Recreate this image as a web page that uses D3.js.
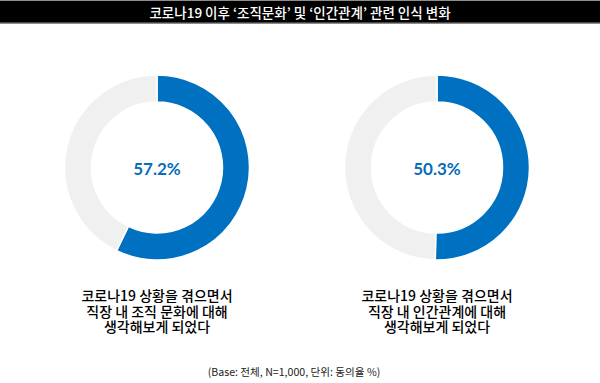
<!DOCTYPE html>
<html><head><meta charset="utf-8">
<script src="https://cdn.jsdelivr.net/npm/d3@7"></script>
<style>body{margin:0;background:#fff}svg{display:block}</style>
</head><body>
<svg id="c" width="600" height="383"></svg>
<script>
const title = "코로나19 이후 ‘조직문화’ 및 ‘인간관계’ 관련 인식 변화";
const categories = ["조직문화", "인간관계"];
const agreeValues = [57.2, 50.3];
const labelLines = [
  ["코로나19 상황을 겪으면서", "직장 내 조직 문화에 대해", "생각해보게 되었다"],
  ["코로나19 상황을 겪으면서", "직장 내 인간관계에 대해", "생각해보게 되었다"]
];
const footnote = "(Base: 전체, N=1,000, 단위: 동의율 %)";

const W = 600, H = 383;
const svg = d3.select("#c");
svg.append("rect").attr("x",0).attr("y",0).attr("width",W).attr("height",H).attr("fill","#fff");
// Title bar
svg.append("rect").attr("x",0).attr("y",0).attr("width",W).attr("height",24).attr("fill","#8c8c8c");
svg.append("rect").attr("x",0).attr("y",1).attr("width",W).attr("height",21.5).attr("fill","#000");
svg.append("text").attr("x",W/2).attr("y",12).attr("text-anchor","middle").attr("dominant-baseline","central")
  .attr("fill","#fff").attr("font-family","'Noto Sans CJK KR', sans-serif").attr("font-size",13.5).attr("font-weight",500)
  .text(title);

const x = d3.scalePoint().domain(categories).range([157, 437]);
const cy = 167.5, rOuter = 92.5, rInner = 65.5;
const pie = d3.pie().sort(null).value(d => d);
const arc = d3.arc().innerRadius(rInner).outerRadius(rOuter);
const colors = ["#0070C0", "#F0F0F0"];

categories.forEach((cat, i) => {
  const g = svg.append("g").attr("transform", `translate(${x(cat)},${cy})`);
  const v = agreeValues[i];
  g.selectAll("path").data(pie([v, 100 - v])).join("path")
    .attr("d", arc).attr("fill", (d, j) => colors[j])
    .attr("stroke", "#fff").attr("stroke-width", 1.5);
  g.append("text").attr("x",0).attr("y",0.5).attr("text-anchor","middle").attr("dominant-baseline","central")
    .attr("fill","#0a6db8").attr("font-family","Lato, 'Open Sans', sans-serif").attr("font-weight",700)
    .attr("font-size",17).text(v.toFixed(1) + "%");
  const t = svg.append("text").attr("text-anchor","middle")
    .attr("font-family","'Noto Sans CJK KR', sans-serif").attr("font-size",14).attr("font-weight",500).attr("fill","#000");
  labelLines[i].forEach((ln, k) => {
    t.append("tspan").attr("x", x(cat)).attr("y", 295 + k * 15.5).attr("dominant-baseline","central").text(ln);
  });
});

svg.append("text").attr("x",294).attr("y",371).attr("text-anchor","middle").attr("dominant-baseline","central")
  .attr("font-family","'Noto Sans CJK KR', sans-serif").attr("font-size",10.6).attr("fill","#222").text(footnote);
</script>
</body></html>
